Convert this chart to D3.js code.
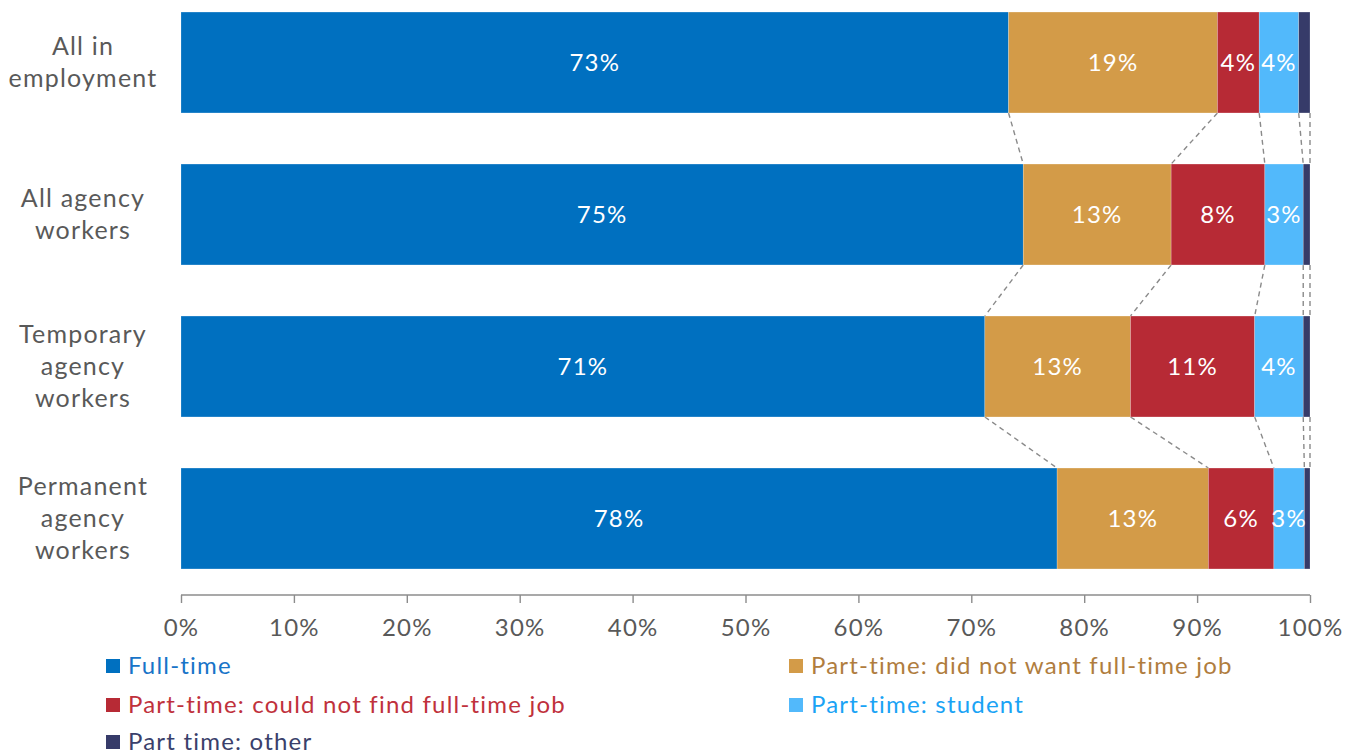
<!DOCTYPE html>
<html>
<head>
<meta charset="utf-8">
<script src="https://cdn.jsdelivr.net/npm/d3@7"></script>
<style>
  html, body { margin: 0; padding: 0; background: #fff; }
  svg { display: block; font-family: Lato, "Open Sans", sans-serif; }
  svg text { letter-spacing: 1.2px; }
</style>
</head>
<body>
<svg id="chart" width="1358" height="755"></svg>
<script>
// Worker groups (rows, top to bottom)
const categories = [
  ["All in", "employment"],
  ["All agency", "workers"],
  ["Temporary", "agency", "workers"],
  ["Permanent", "agency", "workers"]
];

// Series names and shares (% of each group)
const seriesNames = [
  "Full-time",
  "Part-time: did not want full-time job",
  "Part-time: could not find full-time job",
  "Part-time: student",
  "Part time: other"
];
const fullTime      = [73.3, 74.6, 71.2, 77.6];
const ptNotWant     = [18.5, 13.1, 12.9, 13.4];
const ptCouldNot    = [3.7, 8.3, 11.0, 5.8];
const ptStudent     = [3.5, 3.4, 4.3, 2.7];
const ptOther       = [1.0, 0.6, 0.6, 0.5];

const tickValues = [0, 10, 20, 30, 40, 50, 60, 70, 80, 90, 100];

const barColors  = ["#0070C0", "#D39B48", "#B72A35", "#52B9FB", "#363B69"];
const textColors = ["#1874C8", "#B07D3E", "#C0313C", "#1AA3F5", "#3A3F6B"];

const seriesValues = [fullTime, ptNotWant, ptCouldNot, ptStudent, ptOther];
const rows = categories.map((c, i) => {
  const r = { key: i };
  seriesNames.forEach((s, j) => r[s] = seriesValues[j][i]);
  return r;
});

const svg = d3.select("#chart");

const x = d3.scaleLinear().domain([0, 100]).range([181, 1310]);
const y = d3.scaleBand()
  .domain(d3.range(categories.length))
  .range([-13.5, 594.5])
  .paddingInner(0.336)
  .paddingOuter(0.168);

const stack = d3.stack().keys(seriesNames);
const stacked = stack(rows);

// Dashed connectors between segment boundaries of consecutive bars
const connectors = [];
stacked.forEach(layer => {
  for (let i = 0; i < rows.length - 1; i++) {
    connectors.push({ x1: layer[i][1], x2: layer[i + 1][1], i });
  }
});
svg.append("g")
  .selectAll("line")
  .data(connectors)
  .join("line")
  .attr("x1", d => x(d.x1))
  .attr("x2", d => x(d.x2))
  .attr("y1", d => y(d.i) + y.bandwidth())
  .attr("y2", d => y(d.i + 1))
  .attr("stroke", "#8a8a8a")
  .attr("stroke-width", 1.4)
  .attr("stroke-dasharray", "5,4");

// Bars
const layers = svg.append("g")
  .selectAll("g")
  .data(stacked)
  .join("g")
  .attr("fill", (d, i) => barColors[i]);

layers.selectAll("rect")
  .data(d => d)
  .join("rect")
  .attr("x", d => x(d[0]))
  .attr("width", d => x(d[1]) - x(d[0]))
  .attr("y", (d, i) => y(i))
  .attr("height", y.bandwidth())
  .attr("stroke", "#ffffff")
  .attr("stroke-opacity", 0.35)
  .attr("stroke-width", 0.6);

// Value labels (all except "other")
stacked.slice(0, 4).forEach(layer => {
  svg.append("g")
    .selectAll("text")
    .data(layer)
    .join("text")
    .attr("x", d => (x(d[0]) + x(d[1])) / 2)
    .attr("y", (d, i) => y(i) + y.bandwidth() / 2)
    .attr("dy", "0.35em")
    .attr("text-anchor", "middle")
    .attr("fill", "#ffffff")
    .attr("font-size", 24)
    .text(d => Math.round(d[1] - d[0]) + "%");
});

// Category labels
const catG = svg.append("g");
categories.forEach((lines, i) => {
  const cy = y(i) + y.bandwidth() / 2;
  const lh = 32;
  const t = catG.append("text")
    .attr("text-anchor", "middle")
    .attr("fill", "#595959")
    .attr("font-size", 25);
  lines.forEach((ln, k) => {
    t.append("tspan")
      .attr("x", 83)
      .attr("y", cy + (k - (lines.length - 1) / 2) * lh)
      .attr("dy", "0.35em")
      .text(ln);
  });
});

// X axis
const xAxis = svg.append("g")
  .attr("transform", "translate(0,595)")
  .call(d3.axisBottom(x).tickValues(tickValues).tickSize(8).tickFormat(d => d + "%"));
xAxis.select(".domain").attr("stroke", "#8c8c8c").attr("stroke-width", 1.4);
xAxis.selectAll(".tick line").attr("stroke", "#8c8c8c").attr("stroke-width", 1.4);
xAxis.selectAll(".tick text")
  .attr("fill", "#595959")
  .attr("font-size", 24)
  .attr("font-family", "Lato, 'Open Sans', sans-serif")
  .attr("y", 33)
  .attr("dy", "0.35em");
xAxis.select(".domain").attr("d", "M181,0H1310");

// Legend
const legendPos = [
  [106, 666], [789, 666],
  [106, 705], [789, 705],
  [106, 742]
];
const legend = svg.append("g")
  .selectAll("g")
  .data(seriesNames)
  .join("g")
  .attr("transform", (d, i) => `translate(${legendPos[i][0]},${legendPos[i][1]})`);
legend.append("rect")
  .attr("x", 0).attr("y", -7)
  .attr("width", 14).attr("height", 14)
  .attr("fill", (d, i) => barColors[i]);
legend.append("text")
  .attr("x", 22)
  .attr("dy", "0.35em")
  .attr("font-size", 24)
  .attr("fill", (d, i) => textColors[i])
  .text(d => d);
</script>
</body>
</html>
